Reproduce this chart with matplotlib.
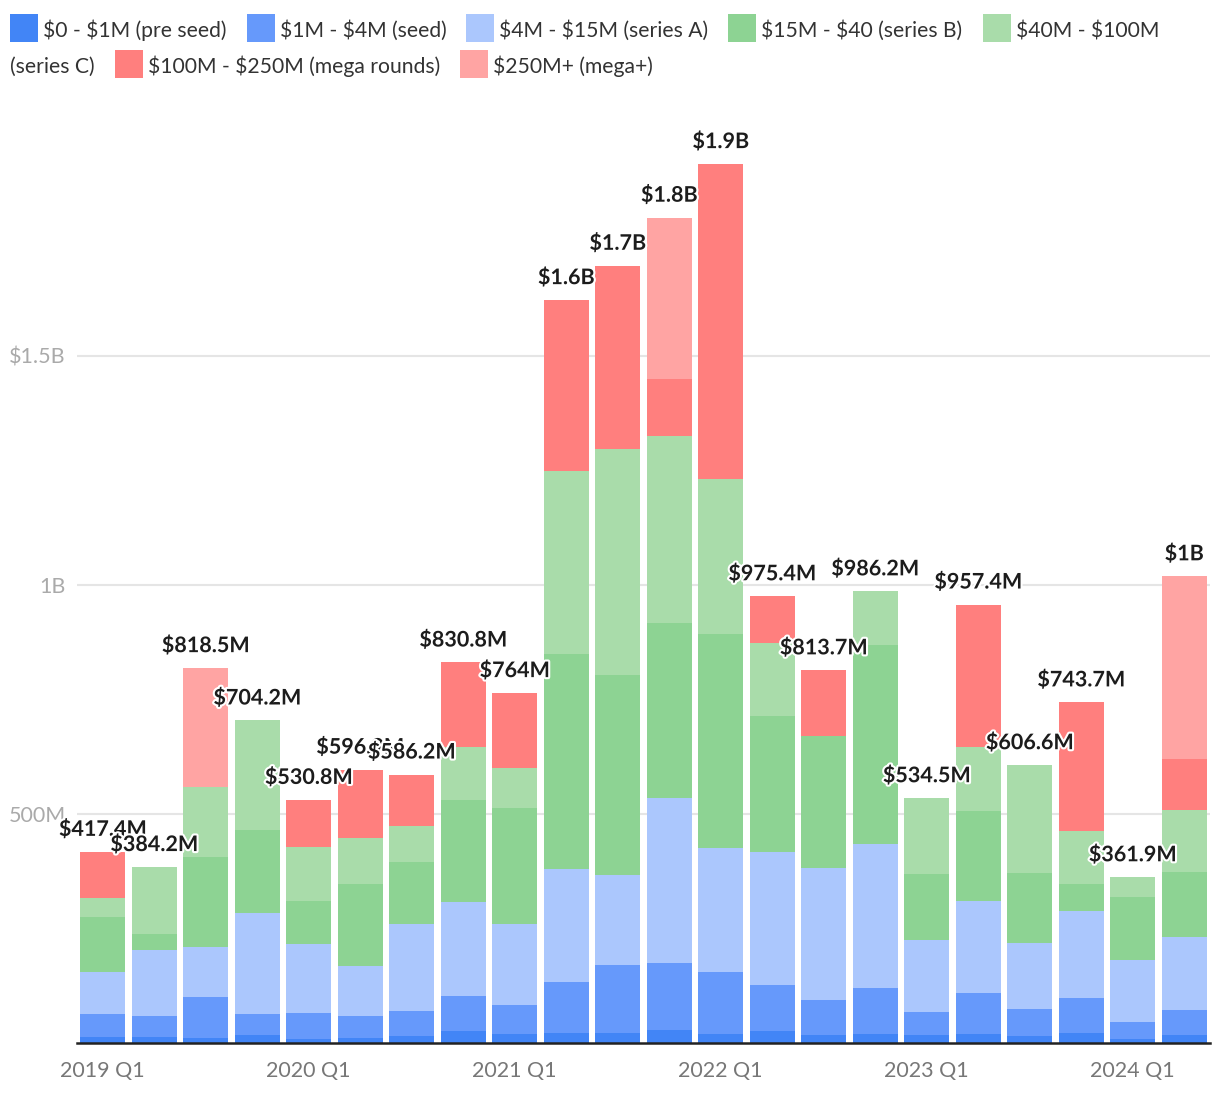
import numpy as np
import matplotlib
matplotlib.use("Agg")
import matplotlib.pyplot as plt
import matplotlib.patheffects as pe
from matplotlib.patches import Rectangle

W, H = 1220, 1102
plt.rcParams['font.family'] = ['Lato', 'DejaVu Sans']
plt.rcParams['text.parse_math'] = False

quarters = ['2019 Q1', '2019 Q2', '2019 Q3', '2019 Q4',
            '2020 Q1', '2020 Q2', '2020 Q3', '2020 Q4',
            '2021 Q1', '2021 Q2', '2021 Q3', '2021 Q4',
            '2022 Q1', '2022 Q2', '2022 Q3', '2022 Q4',
            '2023 Q1', '2023 Q2', '2023 Q3', '2023 Q4',
            '2024 Q1', '2024 Q2']

# $M per funding stage
pre_seed = [13, 13, 11, 17, 9, 11, 15, 26, 20, 22, 22, 28, 20, 26, 17, 20, 17, 20, 15, 22, 9, 17]
seed = [50, 46, 90, 46, 57, 48, 55, 76, 63, 111, 148, 146, 135, 100, 76, 100, 50, 90, 59, 76, 37, 55]
series_a = [92, 144, 108, 220, 151, 109, 190, 205, 177, 247, 197, 360, 271, 290, 290, 314, 157, 199, 144, 190, 135, 159]
series_b = [120, 35, 198, 181, 94, 179, 135, 223, 253, 469, 437, 384, 467, 299, 288, 434, 146, 197, 153, 59, 138, 142]
series_c = [42, 146.2, 153, 240.2, 116, 100, 79, 116, 87, 400, 493, 408, 338, 159, 0, 118.2, 164.5, 140, 235.6, 116, 42.9, 135]
mega = [100.4, 0, 0, 0, 103.8, 149.9, 112.2, 184.8, 164, 373, 400, 124, 688, 101.4, 142.7, 0, 0, 311.4, 0, 280.7, 0, 111]
mega_plus = [0, 0, 258.5, 0, 0, 0, 0, 0, 0, 0, 0, 352, 0, 0, 0, 0, 0, 0, 0, 0, 0, 400]

stages = [pre_seed, seed, series_a, series_b, series_c, mega, mega_plus]
stage_names = ['$0 - $1M (pre seed)', '$1M - $4M (seed)', '$4M - $15M (series A)',
               '$15M - $40 (series B)', '$40M - $100M (series C)',
               '$100M - $250M (mega rounds)', '$250M+ (mega+)']
colors = ['#4285f6', '#6699fb', '#abc7fd', '#8dd393', '#a9dcaa', '#ff7f7e', '#ffa4a3']


def fmt_total(v):
    if v >= 1000:
        s, unit = f"{v / 1000:.1f}", "B"
    else:
        s, unit = f"{v:.1f}", "M"
    if s.endswith(".0"):
        s = s[:-2]
    return f"${s}{unit}"


fig = plt.figure(figsize=(W / 100, H / 100), dpi=100)
ax = fig.add_axes([77 / W, (H - 1043) / H, (1210 - 77) / W, (1043 - 110) / H])

x = np.arange(len(quarters))
bottom = np.zeros(len(quarters))
for vals, color in zip(stages, colors):
    vals = np.array(vals, dtype=float)
    ax.bar(x, vals, width=0.875, bottom=bottom, color=color, linewidth=0, zorder=2)
    bottom += vals

for i, tot in enumerate(bottom):
    ax.annotate(fmt_total(tot), (i, tot), xytext=(0, 11.5), textcoords='offset points',
                ha='center', va='baseline', fontsize=15.5, fontweight='bold', color='#1c1c1c',
                path_effects=[pe.withStroke(linewidth=3, foreground='white')], zorder=5)

ax.set_xlim(-0.5, 21.5)
ax.set_ylim(0, 933 / 0.458)
ax.set_yticks([500, 1000, 1500])
ax.set_yticklabels(['500M', '1B', '$1.5B'])
ax.set_xticks(x[::4])
ax.set_xticklabels([quarters[i] for i in x[::4]])
ax.tick_params(axis='y', length=0, pad=8, labelsize=15.5, labelcolor='#aaaaaa')
ax.tick_params(axis='x', length=0, pad=13, labelsize=15.5, labelcolor='#777777')
ax.yaxis.grid(True, color='#e5e5e5', linewidth=1.5, zorder=0)
ax.set_axisbelow(True)
for s in ['top', 'right', 'left']:
    ax.spines[s].set_visible(False)
ax.spines['bottom'].set_color('#222222')
ax.spines['bottom'].set_linewidth(1.8)
ax.spines['bottom'].set_zorder(3)

# legend, wrapped like the original
renderer = fig.canvas.get_renderer()
leg_fs = 15.2


def text_w(s):
    t = fig.text(0, 0, s, fontsize=leg_fs)
    w = t.get_window_extent(renderer).width
    t.remove()
    return w


rows = [(28, 37), (64, 73)]
row = 0
xc = 10
limit = 1210
for name, color in zip(stage_names, colors):
    if xc + 28 > limit:
        row += 1
        xc = 10
    cy, base = rows[row]
    fig.add_artist(Rectangle((xc / W, 1 - (cy + 14) / H), 28 / W, 28 / H,
                             transform=fig.transFigure, color=color, linewidth=0))
    xc += 28 + 5
    line = ''
    for w in name.split(' '):
        cand = (line + ' ' + w) if line else w
        if line and xc + text_w(cand) > limit:
            fig.text(xc / W, 1 - base / H, line, fontsize=leg_fs, color='#333333', va='baseline')
            row += 1
            cy, base = rows[row]
            xc = 10
            line = w
        else:
            line = cand
    fig.text(xc / W, 1 - base / H, line, fontsize=leg_fs, color='#333333', va='baseline')
    xc += text_w(line) + 20

fig.savefig('out.png', dpi=100)
